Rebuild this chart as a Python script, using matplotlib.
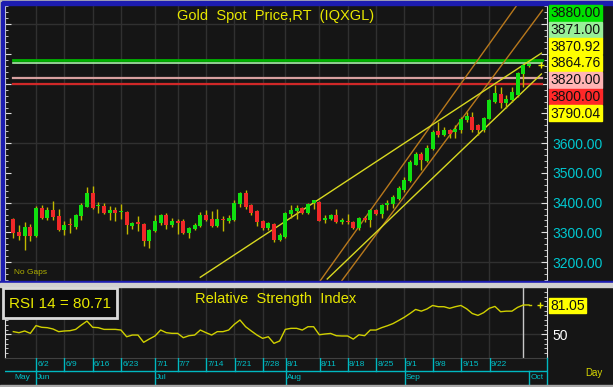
import numpy as np
import matplotlib.pyplot as plt
from matplotlib.patches import Rectangle
from matplotlib.ticker import MultipleLocator, FuncFormatter

plt.rcParams['font.family'] = ['Liberation Sans', 'DejaVu Sans']

# ---- data (daily bars, 5/27 .. 10/1) ----
opens = [3346, 3301, 3287, 3318, 3287, 3382, 3349, 3374, 3354, 3307,
         3327, 3318, 3354, 3385, 3433, 3387, 3389, 3366, 3374, 3368,
         3369, 3321, 3335, 3329, 3270, 3303, 3333, 3360, 3326, 3336,
         3337, 3299, 3310, 3321, 3357, 3346, 3321, 3344, 3338, 3343,
         3394, 3434, 3391, 3371, 3337, 3315, 3329, 3275, 3284, 3363,
         3371, 3382, 3366, 3399, 3402, 3340, 3346, 3357, 3337, 3338,
         3335, 3316, 3349, 3340, 3374, 3363, 3391, 3394, 3413, 3444,
         3473, 3528, 3563, 3541, 3582, 3640, 3627, 3644, 3638, 3644,
         3677, 3689, 3661, 3644, 3683, 3738, 3767, 3734, 3745, 3762,
         3832, 3861]
highs = [3349, 3326, 3335, 3329, 3388, 3391, 3385, 3406, 3378, 3337,
         3349, 3363, 3399, 3451, 3455, 3402, 3399, 3388, 3385, 3397,
         3371, 3335, 3354, 3331, 3312, 3360, 3363, 3366, 3348, 3346,
         3346, 3318, 3331, 3369, 3376, 3371, 3380, 3354, 3360, 3408,
         3436, 3442, 3394, 3374, 3343, 3335, 3331, 3298, 3369, 3391,
         3393, 3385, 3400, 3410, 3404, 3357, 3363, 3378, 3349, 3361,
         3337, 3352, 3354, 3380, 3378, 3397, 3408, 3425, 3455, 3486,
         3543, 3571, 3571, 3593, 3644, 3672, 3653, 3647, 3661, 3689,
         3706, 3706, 3666, 3689, 3750, 3795, 3790, 3762, 3790, 3840,
         3868, 3870.92]
lows = [3282, 3273, 3242, 3270, 3284, 3344, 3343, 3343, 3305, 3290,
        3299, 3312, 3340, 3385, 3380, 3366, 3363, 3340, 3338, 3346,
        3296, 3310, 3305, 3254, 3247, 3301, 3326, 3310, 3318, 3293,
        3296, 3282, 3307, 3318, 3338, 3318, 3318, 3305, 3333, 3338,
        3385, 3380, 3357, 3320, 3307, 3307, 3267, 3271, 3281, 3349,
        3346, 3361, 3363, 3378, 3337, 3333, 3343, 3333, 3329, 3329,
        3312, 3309, 3335, 3318, 3357, 3349, 3374, 3383, 3408, 3436,
        3470, 3526, 3511, 3537, 3578, 3621, 3624, 3616, 3616, 3635,
        3672, 3638, 3627, 3638, 3680, 3734, 3717, 3717, 3739, 3756,
        3790.04, 3857]
closes = [3299, 3288, 3318, 3287, 3382, 3349, 3374, 3352, 3307, 3326,
          3325, 3360, 3391, 3433, 3383, 3391, 3366, 3374, 3366, 3370,
          3324, 3333, 3329, 3270, 3307, 3337, 3360, 3326, 3338, 3334,
          3299, 3315, 3326, 3360, 3343, 3321, 3346, 3342, 3348, 3399,
          3434, 3385, 3366, 3335, 3315, 3331, 3275, 3290, 3366, 3376,
          3383, 3366, 3397, 3408, 3338, 3349, 3357, 3335, 3339, 3336,
          3316, 3349, 3340, 3376, 3363, 3393, 3399, 3419, 3449, 3477,
          3537, 3563, 3543, 3585, 3638, 3627, 3644, 3632, 3648, 3683,
          3691, 3644, 3644, 3686, 3747, 3770, 3736, 3750, 3773, 3835,
          3863, 3864.76]
rsi = [52.8, 51.7, 53.5, 51.0, 59.2, 57.4, 57.0, 55.6, 52.8, 53.5,
       53.8, 55.2, 59.8, 64.0, 57.4, 57.0, 55.2, 55.2, 55.2, 54.5,
       47.4, 49.2, 49.2, 41.5, 45.0, 48.2, 54.5, 51.7, 51.0, 51.0,
       46.4, 48.5, 49.2, 54.5, 51.7, 49.2, 52.8, 52.8, 54.5, 60.5,
       65.1, 58.0, 53.5, 49.2, 45.7, 47.4, 40.4, 42.9, 55.2, 56.3,
       56.3, 54.5, 58.0, 58.0, 49.5, 50.3, 50.9, 48.5, 48.2, 48.2,
       44.9, 49.5, 48.5, 54.5, 54.5, 57.0, 59.0, 61.3, 64.6, 68.0,
       72.0, 76.3, 74.5, 76.8, 80.5, 79.2, 79.2, 77.5, 79.2, 80.5,
       77.0, 72.0, 70.0, 72.9, 77.5, 79.5, 73.9, 74.5, 74.5, 78.5,
       81.0, 81.05]

week_idx = [4, 9, 14, 19, 25, 29, 34, 39, 44, 48, 54, 59, 64, 69, 74, 79, 84]
week_lbl = ['6/2', '6/9', '6/16', '6/23', '7/1', '7/7', '7/14', '7/21', '7/28',
            '8/1', '8/11', '8/18', '8/25', '9/1', '9/8', '9/15', '9/22']
month_idx = [0, 4, 25, 48, 69, 91]
month_lbl = ['May', 'Jun', 'Jul', 'Aug', 'Sep', 'Oct']

# horizontal alert levels
levels = [3880, 3871, 3820, 3800]
level_colors = ['#00b400', '#a8f0a8', '#d8a0a0', '#d02828']
level_widths = [2.0, 1.2, 1.6, 1.6]

# trend lines (bar index, price)
yellow_lines = [((33.0, 3149), (93.2, 3903)), ((55.4, 3143), (93.2, 3833))]
brown_lines = [((54.2, 3138), (88.9, 4065)), ((58.0, 3138), (93.4, 4048))]

# price ladder on the right
ladder_lbl = ['3880.00', '3871.00', '3870.92', '3864.76', '3820.00', '3800.00', '3790.04']
ladder_bg = ['#00e000', '#98f098', '#ffff00', '#ffff00', '#ffb4b4', '#ff2828', '#ffff00']

last_price = 3864.76
rsi_last = 81.05
cursor_idx = 90

# ---- figure ----
W, H = 613, 387
BG = '#151515'
fig = plt.figure(figsize=(W / 100, H / 100), dpi=100, facecolor=BG)


def box(x0, y0, x1, y1):
    return [x0 / W, 1 - y1 / H, (x1 - x0) / W, (y1 - y0) / H]


def frect(x0, y0, x1, y1, color, z=5):
    fig.patches.append(Rectangle((x0 / W, 1 - y1 / H), (x1 - x0) / W, (y1 - y0) / H,
                                 transform=fig.transFigure, color=color, zorder=z))


xlim = (-1.47, 94.1)
n = len(closes)
idx = np.arange(n)

# main price panel
ax = fig.add_axes(box(5, 5, 546.5, 280.5))
ax.set_facecolor(BG)
ax.set_xlim(*xlim)
ax.set_ylim(3138, 4065)
for s in ['top', 'bottom']:
    ax.spines[s].set_visible(False)
for s in ['left', 'right']:
    ax.spines[s].set_color('#e0e0e0')
ax.set_xticks([])
ax.yaxis.set_major_locator(MultipleLocator(100))
ax.yaxis.set_minor_locator(MultipleLocator(20))
ax.tick_params(axis='y', which='both', direction='in', left=True, right=True,
               labelleft=False, labelright=True, color='#e0e0e0')
ax.tick_params(axis='y', which='major', length=4, labelsize=10, labelcolor='#00c8d0', pad=4)
ax.tick_params(axis='y', which='minor', length=2)
ax.yaxis.set_major_formatter(FuncFormatter(lambda v, p: f'{v:.2f}' if v < 3650 else ''))

for g in range(3200, 4100, 200):
    ax.axhline(g, color='#303030', lw=1, zorder=0)
for w in week_idx:
    ax.axvline(w, color='#303030', lw=1, zorder=0)

for lv, c, lw in zip(levels, level_colors, level_widths):
    ax.axhline(lv, xmin=0.015, xmax=0.992, color=c, lw=lw, zorder=2)

for (p0, p1) in brown_lines:
    ax.plot([p0[0], p1[0]], [p0[1], p1[1]], color='#b8781c', lw=1, zorder=3)
for (p0, p1) in yellow_lines:
    ax.plot([p0[0], p1[0]], [p0[1], p1[1]], color='#d8d820', lw=1, zorder=3)

o = np.array(opens, float)
c = np.array(closes, float)
up = c >= o
ax.vlines(idx, lows, highs, color='#c0b800', lw=1, zorder=4)
body = np.where(np.abs(c - o) < 4, 4, np.abs(c - o))
bottom = np.where(np.abs(c - o) < 4, (o + c) / 2 - 2, np.minimum(o, c))
ax.bar(idx, body, bottom=bottom, width=0.7, color=np.where(up, '#10e010', '#f02828'),
       zorder=5, linewidth=0)
ax.plot([n + 1.1], [last_price], marker='+', color='#e8e800', ms=5, mew=1, zorder=6)

ax.text(0.499, 0.985, 'Gold  Spot  Price,RT  (IQXGL)', transform=ax.transAxes,
        ha='center', va='top', color='#e8e800', fontsize=10.5)
ax.text(0.017, 0.015, 'No Gaps', transform=ax.transAxes, ha='left', va='bottom',
        color='#b0b000', fontsize=6)

# RSI panel
ar = fig.add_axes(box(5, 288, 546.5, 358))
ar.set_facecolor(BG)
ar.set_xlim(*xlim)
ar.set_ylim(24.9, 99)
ar.set_xticks([])
ar.spines['top'].set_visible(False)
ar.spines['bottom'].set_color('#404040')
for s in ['left', 'right']:
    ar.spines[s].set_color('#e0e0e0')
ar.yaxis.set_major_locator(MultipleLocator(50))
ar.yaxis.set_minor_locator(MultipleLocator(5))
ar.tick_params(axis='y', which='both', direction='in', left=True, right=True,
               labelleft=False, labelright=True, color='#e0e0e0')
ar.tick_params(axis='y', which='major', length=4, labelsize=10, labelcolor='white', pad=4)
ar.tick_params(axis='y', which='minor', length=2)
ar.yaxis.set_major_formatter(FuncFormatter(lambda v, p: f'{v:.0f}' if v == 50 else ''))
for w in week_idx:
    ar.axvline(w, color='#303030', lw=1, zorder=0)
ar.axhline(50, color='#303030', lw=1, zorder=0)
ar.axvline(cursor_idx, color='#c8c8c8', lw=1, zorder=1)
ar.plot(idx, rsi, color='#d0d000', lw=1, zorder=3)
ar.plot([n - 1, n - 0.7], [rsi[-1], rsi[-1]], color='#d0d000', lw=1, zorder=3)
ar.plot([n + 1], [rsi_last], marker='+', color='#e8e800', ms=4, mew=1)
ar.text(0.5, 0.94, 'Relative  Strength  Index', transform=ar.transAxes, ha='center',
        va='top', color='#e8e800', fontsize=10.5)

# date axis
ad = fig.add_axes(box(5, 358, 547, 385))
ad.set_facecolor(BG)
ad.set_xlim(*xlim)
ad.set_ylim(0, 1)
ad.axis('off')
ad.axhline(0.53, color='#00b8c0', lw=1)
for w, lb in zip(week_idx, week_lbl):
    ad.plot([w, w], [0.53, 1], color='#00b8c0', lw=1)
    ad.text(w + 0.2, 0.76, lb, color='#00c0c8', fontsize=6, va='center', ha='left')
for m, lb in zip(month_idx, month_lbl):
    if m > 0:
        ad.plot([m, m], [0, 0.53], color='#00b8c0', lw=1)
    ad.text(m + 0.2, 0.26, lb, color='#00c0c8', fontsize=6, va='center', ha='left')
ad.plot([xlim[1], xlim[1]], [0, 1], color='#00b8c0', lw=1, clip_on=False)

# frame
frect(0, 0, W, 1.5, '#b8b8b8')
frect(0, 1.5, W, 4.5, '#1c1cb0')
frect(0, 0, 1.5, 282.5, '#b8b8b8')
frect(1.5, 1.5, 4.5, 282.5, '#1c1cb0')
frect(0, 280.5, W, 283, '#1c1cb0')
frect(0, 283, W, 287, '#d0d0d0')
frect(0, 385, W, H, '#a8a8a8')

# price ladder
y0 = 5.0
bh = 16.7
for i, (lb, bg) in enumerate(zip(ladder_lbl, ladder_bg)):
    top = y0 + i * bh
    frect(549, top, 602, top + bh - 0.8, bg, z=6)
    fig.text(575.5 / W, 1 - (top + bh / 2) / H, lb, ha='center', va='center',
             fontsize=10, color='#101010', zorder=7)

# RSI legend box
fig.patches.append(Rectangle((3 / W, 1 - 318 / H), 114 / W, 30 / H, transform=fig.transFigure,
                             fc='#0a0a0a', ec='#d8d8d8', lw=2, zorder=6))
fig.text(60 / W, 1 - 303.5 / H, 'RSI 14 = 80.71', ha='center', va='center', fontsize=11,
         color='#e8e800', zorder=7)
frect(549, 298, 586, 313, '#ffff00', z=6)
fig.text(567.5 / W, 1 - 305.5 / H, f'{rsi_last:.2f}', ha='center', va='center', fontsize=10,
         color='#101010', zorder=7)
fig.text(585 / W, 1 - 373 / H, 'Day', ha='left', va='center', fontsize=7, color='#d8d800')

fig.savefig('out.png', dpi=100, facecolor=BG)
